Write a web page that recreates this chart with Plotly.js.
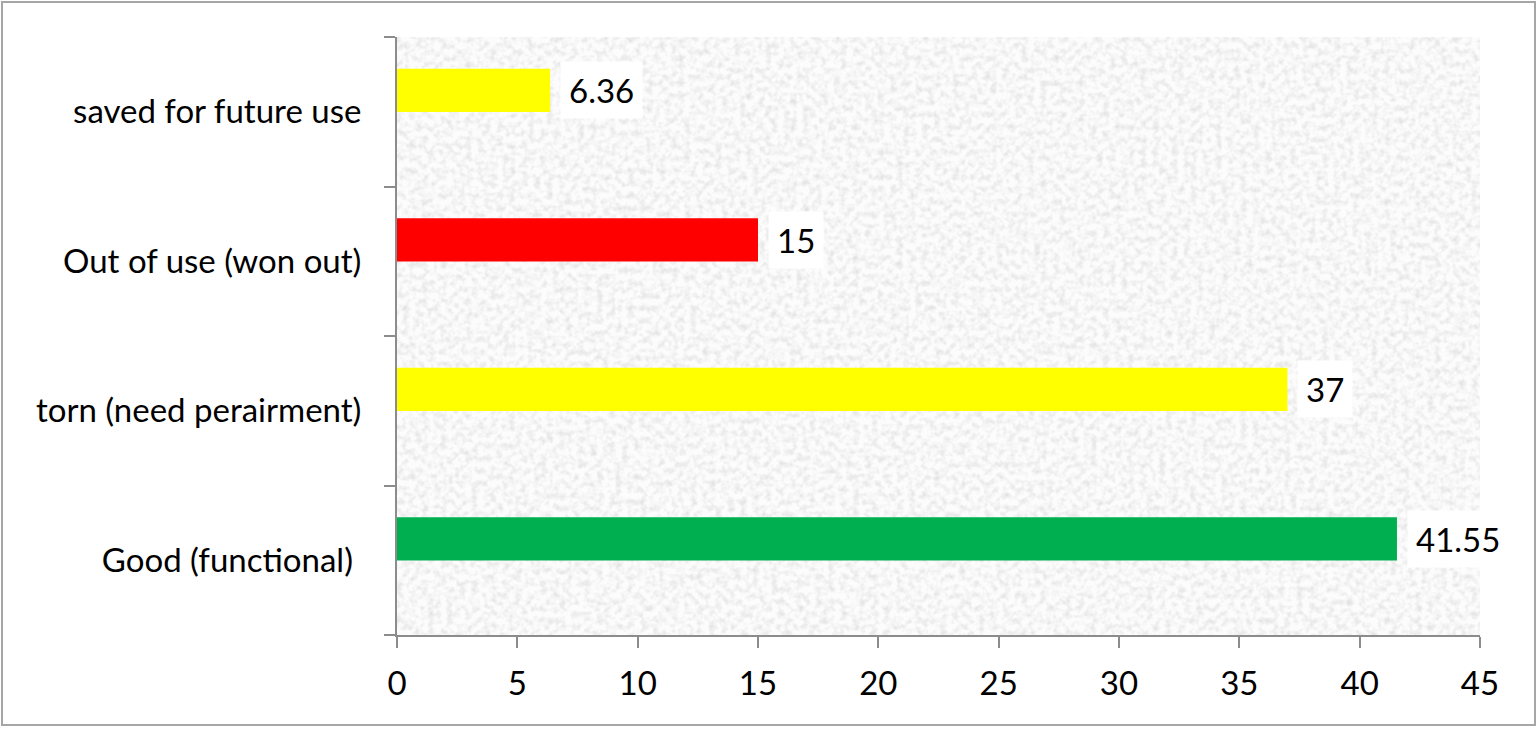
<!DOCTYPE html>
<html>
<head>
<meta charset="utf-8">
<script src="https://cdn.plot.ly/plotly-3.0.1.min.js"></script>
<style>
  html, body { margin: 0; padding: 0; background: #fff; }
  #chart { width: 1537px; height: 729px; }
</style>
</head>
<body>
<div id="chart"></div>
<script>
// Condition of items, percent
const categories = ['Good (functional)\u00a0', 'torn (need perairment)', 'Out of use (won out)', 'saved for future use'];
const values = [41.55, 37, 15, 6.36];
const valueLabels = ['41.55', '37', '15', '6.36'];
const barColors = ['#00b050', '#ffff00', '#ff0000', '#ffff00'];
const xTicks = [0, 5, 10, 15, 20, 25, 30, 35, 40, 45];

const W = 1537, H = 729;
const M = { l: 397, r: 57, t: 37, b: 94 };
const pw = W - M.l - M.r, ph = H - M.t - M.b;
const FONT = 'Lato, "Open Sans", sans-serif';
const FS = 33;

// speckled stone backdrop for the plot area
const noiseSvg =
  '<svg xmlns="http://www.w3.org/2000/svg" width="' + pw + '" height="' + ph + '">' +
  '<filter id="n" x="0" y="0" width="100%" height="100%">' +
  '<feTurbulence type="fractalNoise" baseFrequency="0.16" numOctaves="2" seed="11"/>' +
  '<feColorMatrix type="matrix" values="0 0 0 0 0.55  0 0 0 0 0.55  0 0 0 0 0.55  1.8 0 0 0 -0.72"/>' +
  '</filter>' +
  '<rect width="100%" height="100%" fill="#fcfcfc"/>' +
  '<rect width="100%" height="100%" filter="url(#n)" opacity="0.5"/>' +
  '</svg>';
const noiseSrc = 'data:image/svg+xml;charset=utf-8,' + encodeURIComponent(noiseSvg);

// bars sit a little above the middle of each category band
const BAR_W = 0.29, BAR_LIFT = 0.143;

const trace = {
  type: 'bar',
  orientation: 'h',
  y: categories,
  x: values,
  width: BAR_W,
  offset: BAR_LIFT - BAR_W / 2,
  marker: { color: barColors, line: { width: 0 } },
  hoverinfo: 'x+y'
};

const bandPx = ph / categories.length;

const annotations = values.map((v, i) => ({
  x: v, y: categories[i], xref: 'x', yref: 'y',
  text: valueLabels[i], showarrow: false,
  xanchor: 'left', yanchor: 'middle', xshift: 10, yshift: BAR_LIFT * bandPx,
  bgcolor: '#ffffff', borderpad: 8,
  font: { family: FONT, size: FS, color: '#000' }
}));

const layout = {
  width: W, height: H,
  margin: M,
  paper_bgcolor: '#ffffff',
  plot_bgcolor: '#f2f2f2',
  showlegend: false,
  font: { family: FONT, size: FS, color: '#000' },
  xaxis: {
    range: [0, 45], tickvals: xTicks, ticktext: xTicks.map(String),
    showgrid: false, zeroline: false,
    showline: true, linecolor: '#8c8c8c', linewidth: 2,
    ticks: 'outside', ticklen: 11, tickwidth: 2, tickcolor: '#8c8c8c',
    ticklabelstandoff: 7,
    tickfont: { family: FONT, size: FS, color: '#000' },
    fixedrange: true
  },
  yaxis: {
    type: 'category', categoryorder: 'array', categoryarray: categories,
    range: [-0.5, 3.5],
    showgrid: false, zeroline: false,
    showline: true, linecolor: '#8c8c8c', linewidth: 2,
    ticks: 'outside', tickson: 'boundaries', ticklen: 11, tickwidth: 2, tickcolor: '#8c8c8c',
    ticklabelstandoff: 27,
    tickfont: { family: FONT, size: FS, color: '#000' },
    fixedrange: true
  },
  images: [{
    source: noiseSrc, xref: 'paper', yref: 'paper',
    x: 0, y: 1, sizex: 1, sizey: 1, xanchor: 'left', yanchor: 'top',
    sizing: 'stretch', layer: 'below'
  }],
  annotations: annotations,
  shapes: [{
    type: 'rect', xref: 'paper', yref: 'paper',
    x0: (2 - M.l) / pw, x1: (W - 2 - M.l) / pw,
    y0: (H - M.b - (H - 4)) / ph, y1: (H - M.b - 2) / ph,
    line: { color: '#a6a6a6', width: 2 }, fillcolor: 'rgba(0,0,0,0)', layer: 'below'
  }]
};

Plotly.newPlot('chart', [trace], layout, { displayModeBar: false, staticPlot: true });
</script>
</body>
</html>
